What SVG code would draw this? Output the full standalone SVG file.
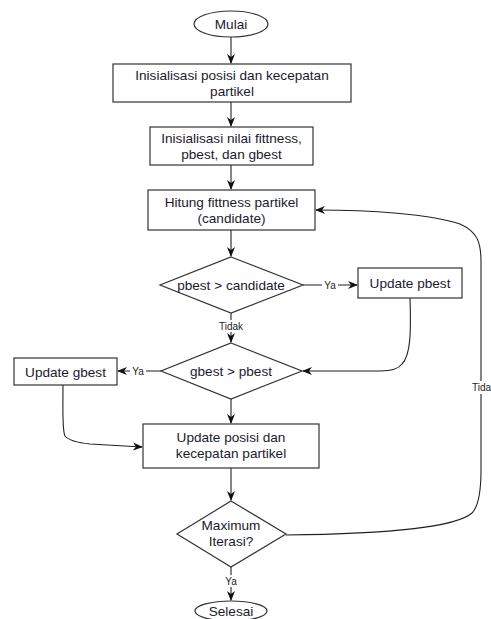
<svg xmlns="http://www.w3.org/2000/svg" width="491" height="619" viewBox="0 0 491 619">
<style>
.n{fill:#fff;stroke:#333;stroke-width:1.2}
.t{font-family:"Liberation Sans",Arial,sans-serif;font-size:13.6px;fill:#1a1a2e;text-anchor:middle}
.l{font-family:"Liberation Sans",Arial,sans-serif;font-size:10px;fill:#222;text-anchor:middle}
.c{fill:none;stroke:#222;stroke-width:1.1;marker-end:url(#a)}
.lb{fill:#fff}
</style>
<defs>
<marker id="a" markerUnits="userSpaceOnUse" markerWidth="10" markerHeight="10" viewBox="0 0 10 10" refX="9" refY="5" orient="auto">
<path d="M0,1 L10,5 L0,9 L3,5 z" fill="#111"/>
</marker>
</defs>
<rect width="491" height="619" fill="#fff"/>
<g id="connectors">
<path class="c" d="M231,37 V63"/>
<path class="c" d="M231,102 V126"/>
<path class="c" d="M231,165 V189"/>
<path class="c" d="M231,230 V256"/>
<path class="c" d="M231,313 V342"/>
<path class="c" d="M231,399 V423"/>
<path class="c" d="M231,468 V500"/>
<path class="c" d="M231,567 V600"/>
<path class="c" d="M303,285 H357"/>
<path class="c" d="M161,371 H118"/>
<path class="c" d="M410,298 C411,330 411,355 402,364 Q397,371 380,371 L303,371"/>
<path class="c" d="M63,385 C63,410 62,430 65,436 Q70,442 90,444 L142,447"/>
<path class="c" d="M286,535 C380,534 455,528 472,513 Q481,504 481,470 L481,262 C481,243 478,232 460,224 C430,214 370,210 316,210"/>
<rect class="lb" x="322" y="279" width="16" height="12"/>
<text class="l" x="330" y="288.5">Ya</text>
<rect class="lb" x="130" y="365" width="16" height="12"/>
<text class="l" x="138" y="374.5">Ya</text>
<rect class="lb" x="217" y="320" width="28" height="12"/>
<text class="l" x="231" y="329.5">Tidak</text>
<rect class="lb" x="223" y="575" width="16" height="12"/>
<text class="l" x="231" y="584.5">Ya</text>
<rect class="lb" x="470" y="381" width="21" height="13"/>
<text class="l" x="472" y="391" style="text-anchor:start">Tida</text>
</g>
<g id="mulai"><ellipse class="n" cx="231" cy="24" rx="37" ry="13"/><text class="t" x="231" y="29">Mulai</text></g>
<g id="init1"><rect class="n" x="113" y="64" width="238" height="38"/><text class="t" x="232" y="80">Inisialisasi posisi dan kecepatan</text><text class="t" x="232" y="96">partikel</text></g>
<g id="init2"><rect class="n" x="150" y="127" width="163" height="38"/><text class="t" x="231.5" y="143">Inisialisasi nilai fittness,</text><text class="t" x="231.5" y="159">pbest, dan gbest</text></g>
<g id="hitung"><rect class="n" x="148" y="190" width="167" height="40"/><text class="t" x="231.5" y="207">Hitung fittness partikel</text><text class="t" x="231.5" y="223">(candidate)</text></g>
<g id="dec1"><polygon class="n" points="231,257 303,285 231,313 160,285"/><text class="t" x="231" y="290">pbest &gt; candidate</text></g>
<g id="upbest"><rect class="n" x="358" y="268" width="104" height="30"/><text class="t" x="410" y="288">Update pbest</text></g>
<g id="dec2"><polygon class="n" points="231,343 302,371 231,399 161,371"/><text class="t" x="231" y="376">gbest &gt; pbest</text></g>
<g id="ugbest"><rect class="n" x="14" y="358" width="103" height="27"/><text class="t" x="65.5" y="376.5">Update gbest</text></g>
<g id="upos"><rect class="n" x="143" y="424" width="176" height="44"/><text class="t" x="231" y="442">Update posisi dan</text><text class="t" x="231" y="458">kecepatan partikel</text></g>
<g id="dec3"><polygon class="n" points="231,501 286,534 231,567 177,534"/><text class="t" x="231" y="530">Maximum</text><text class="t" x="231" y="546">Iterasi?</text></g>
<g id="selesai"><ellipse class="n" cx="231" cy="611" rx="36" ry="10"/><text class="t" x="231" y="616">Selesai</text></g>
</svg>
